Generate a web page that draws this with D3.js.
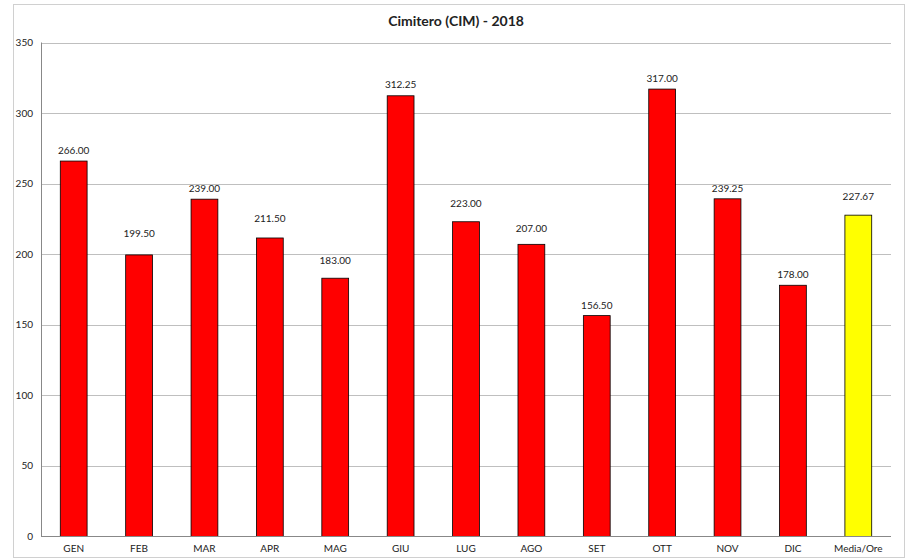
<!DOCTYPE html>
<meta charset="utf-8">
<script src="https://d3js.org/d3.v7.min.js"></script>
<style>
body{margin:0;background:#fff;}
text{font-family:Lato,"Open Sans",sans-serif;fill:#222;}
</style>
<div id="vis"></div>
<script>
var categories = ["GEN","FEB","MAR","APR","MAG","GIU","LUG","AGO","SET","OTT","NOV","DIC","Media/Ore"];
var values = [266.00,199.50,239.00,211.50,183.00,312.25,223.00,207.00,156.50,317.00,239.25,178.00,227.67];
var yTicks = [0,50,100,150,200,250,300,350];

// gap (px) between bar top and its value label, as placed in the original
var labelGap = [7,18,7,16,14,8,15,12,7,7,7,7,15];

var width = 908, height = 559;
var plotLeft = 41, plotRight = 891, plotTop = 42.5, plotBottom = 536.5;

var svg = d3.select("#vis").append("svg")
    .attr("width", width)
    .attr("height", height);

// outer frame
svg.append("rect")
    .attr("x", 13.5).attr("y", 4.5)
    .attr("width", 891).attr("height", 553)
    .attr("fill", "#fff")
    .attr("stroke", "#d0d0d0");

svg.append("text")
    .attr("x", 456).attr("y", 26)
    .attr("text-anchor", "middle")
    .style("font-size", "14px")
    .style("font-weight", "bold")
    .text("Cimitero (CIM) - 2018");

var x = d3.scaleBand().domain(categories).range([plotLeft, plotRight]).paddingInner(0.59).paddingOuter(0.295);
var y = d3.scaleLinear().domain([0, 350]).range([plotBottom, plotTop]);

// gridlines
svg.append("g").selectAll("line")
    .data(yTicks.filter(function(d){ return d > 0; }))
    .enter().append("line")
    .attr("x1", plotLeft).attr("x2", plotRight)
    .attr("y1", function(d){ return Math.round(y(d)) + 0.5; })
    .attr("y2", function(d){ return Math.round(y(d)) + 0.5; })
    .attr("stroke", "#bfbfbf");

// y labels
svg.append("g").selectAll("text")
    .data(yTicks)
    .enter().append("text")
    .attr("x", 33)
    .attr("y", function(d){ return y(d) + 3.5; })
    .attr("text-anchor", "end")
    .style("font-size", "10px")
    .text(function(d){ return d; });

// bars
svg.append("g").selectAll("rect")
    .data(values)
    .enter().append("rect")
    .attr("x", function(d, i){ return x(categories[i]); })
    .attr("y", function(d){ return y(d); })
    .attr("width", x.bandwidth())
    .attr("height", function(d){ return plotBottom - y(d); })
    .attr("fill", function(d, i){ return i == values.length - 1 ? "#ffff00" : "#ff0000"; })
    .attr("stroke", "#000")
    .attr("stroke-width", 0.8);

// value labels
svg.append("g").selectAll("text")
    .data(values)
    .enter().append("text")
    .attr("x", function(d, i){ return x(categories[i]) + x.bandwidth() / 2; })
    .attr("y", function(d, i){ return y(d) - labelGap[i]; })
    .attr("text-anchor", "middle")
    .style("font-size", "10px")
    .text(function(d){ return d.toFixed(2); });

// axes lines
svg.append("line")
    .attr("x1", plotLeft + 0.5).attr("x2", plotLeft + 0.5)
    .attr("y1", plotTop).attr("y2", plotBottom)
    .attr("stroke", "#888");
svg.append("line")
    .attr("x1", plotLeft).attr("x2", plotRight)
    .attr("y1", plotBottom).attr("y2", plotBottom)
    .attr("stroke", "#888");

// x labels
svg.append("g").selectAll("text")
    .data(categories)
    .enter().append("text")
    .attr("x", function(d){ return x(d) + x.bandwidth() / 2; })
    .attr("y", 552)
    .attr("text-anchor", "middle")
    .style("font-size", "10px")
    .text(function(d){ return d; });
</script>
